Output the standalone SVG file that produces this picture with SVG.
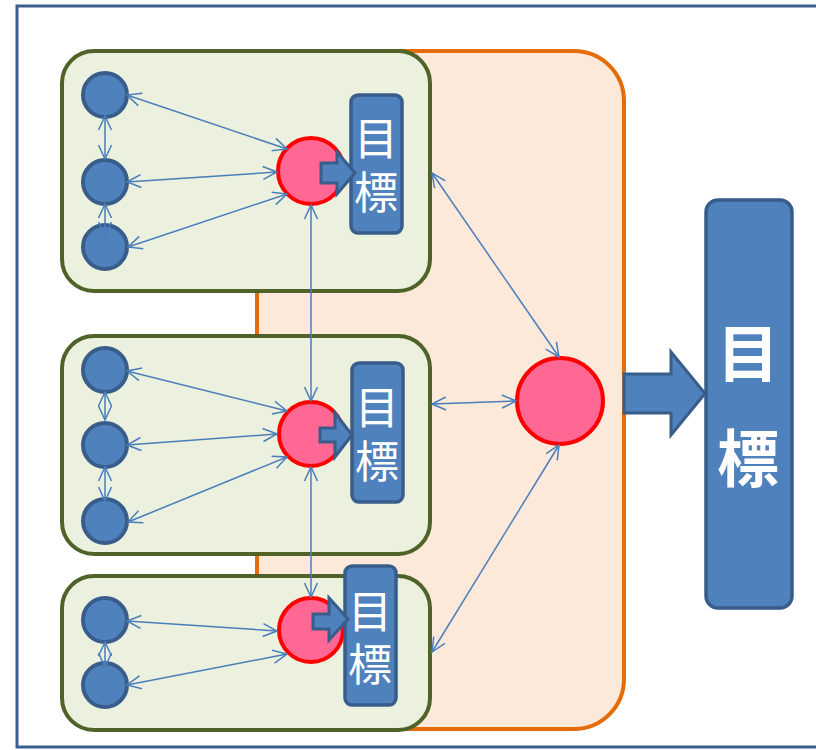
<svg xmlns="http://www.w3.org/2000/svg" width="816" height="750" viewBox="0 0 816 750">
<defs>
<marker id="ah" viewBox="0 0 16 16" refX="15" refY="8" markerWidth="16" markerHeight="16" markerUnits="userSpaceOnUse" orient="auto-start-reverse">
<path d="M1,1.5 L15,8 L1,14.5" fill="none" stroke="#4A7EBB" stroke-width="1.5"/>
</marker>
</defs>
<style>
.grp{fill:#EBF1DE;stroke:#4F6228;stroke-width:4}
.sc{fill:#4F81BD;stroke:#385D8A;stroke-width:4}
.rc{fill:#FF6794;stroke:#FF0000;stroke-width:4}
.tb{fill:#4F81BD;stroke:#385D8A;stroke-width:3.5}
.ba{fill:#4F81BD;stroke:#385D8A;stroke-width:3;stroke-linejoin:miter}
.t{fill:#FFFFFF;font-family:"Noto Sans CJK JP","Noto Sans CJK SC",sans-serif;writing-mode:vertical-rl;text-anchor:start}
.c{fill:none;stroke:#4A7EBB;stroke-width:1.5;marker-start:url(#ah);marker-end:url(#ah)}
</style>
<rect x="17" y="6" width="830" height="741" fill="#FFFFFF" stroke="#3A5F8F" stroke-width="3"/>
<g id="outer-group"><rect x="257" y="51" width="367" height="678" rx="50" fill="#FDE9D9" stroke="#E46C0A" stroke-width="4"/></g>
<g id="group1"><rect class="grp" x="62" y="51" width="368" height="240" rx="32"/></g>
<g id="group2"><rect class="grp" x="62" y="336" width="368" height="218" rx="32"/></g>
<g id="group3"><rect class="grp" x="62" y="576" width="368" height="154" rx="32"/></g>

<g id="n1a"><circle class="sc" cx="105" cy="95" r="22"/></g>
<g id="n1b"><circle class="sc" cx="105" cy="182" r="22"/></g>
<g id="n1c"><circle class="sc" cx="105" cy="247" r="22"/></g>
<g id="n2a"><circle class="sc" cx="105" cy="370" r="22"/></g>
<g id="n2b"><circle class="sc" cx="105" cy="445" r="22"/></g>
<g id="n2c"><circle class="sc" cx="105" cy="521" r="22"/></g>
<g id="n3a"><circle class="sc" cx="105" cy="620" r="22"/></g>
<g id="n3b"><circle class="sc" cx="105" cy="685" r="22"/></g>

<g id="r1"><circle class="rc" cx="311" cy="171" r="33"/></g>
<g id="r2"><circle class="rc" cx="311" cy="434" r="32"/></g>
<g id="r3"><circle class="rc" cx="311" cy="630" r="32"/></g>
<g id="rc"><circle class="rc" cx="560" cy="401" r="43"/></g>

<g id="t1"><rect class="tb" x="351" y="95" width="51" height="138" rx="7"/><text class="t" x="376" y="116" font-size="44" letter-spacing="10">目標</text></g>
<g id="t2"><rect class="tb" x="352" y="363" width="51" height="139" rx="7"/><text class="t" x="377" y="385" font-size="44" letter-spacing="10">目標</text></g>
<g id="t3"><rect class="tb" x="345" y="566" width="51" height="139" rx="7"/><text class="t" x="370" y="589" font-size="44" letter-spacing="9">目標</text></g>
<g id="tbig"><rect class="tb" x="706" y="200" width="86" height="408" rx="12"/><text class="t" x="748" y="322" font-size="62" font-weight="bold" letter-spacing="43">目標</text></g>

<g id="arrows">
<path class="ba" d="M321,163 H337 V152 L355,173 L337,194 V183 H321 Z"/>
<path class="ba" d="M320,428 H335 V413 L352,435 L335,457 V442 H320 Z"/>
<path class="ba" d="M313,614 H329 V598 L348,619 L329,640 V629 H313 Z"/>
<path class="ba" d="M624,374 H671 V352 L705,393.5 L671,435 V413 H624 Z"/>
</g>

<g id="connectors">
<line class="c" x1="127" y1="95" x2="287" y2="149"/>
<line class="c" x1="127" y1="182" x2="277" y2="172"/>
<line class="c" x1="128" y1="247" x2="287" y2="194"/>
<line class="c" x1="105" y1="116" x2="105" y2="159"/>
<line class="c" x1="105" y1="204" x2="105" y2="236"/>
<line class="c" x1="127" y1="371" x2="287" y2="411"/>
<line class="c" x1="127" y1="445" x2="277" y2="434"/>
<line class="c" x1="128" y1="522" x2="287" y2="457"/>
<line class="c" x1="105" y1="392" x2="105" y2="420"/>
<line class="c" x1="105" y1="467" x2="105" y2="501"/>
<line class="c" x1="127" y1="621" x2="277" y2="631"/>
<line class="c" x1="127" y1="685" x2="287" y2="654"/>
<line class="c" x1="105" y1="642" x2="105" y2="667"/>
<line class="c" x1="311" y1="205" x2="311" y2="401"/>
<line class="c" x1="311" y1="467" x2="311" y2="597"/>
<line class="c" x1="432" y1="173" x2="559" y2="357"/>
<line class="c" x1="432" y1="404" x2="516" y2="401"/>
<line class="c" x1="432" y1="652" x2="559" y2="445"/>
</g>
</svg>
